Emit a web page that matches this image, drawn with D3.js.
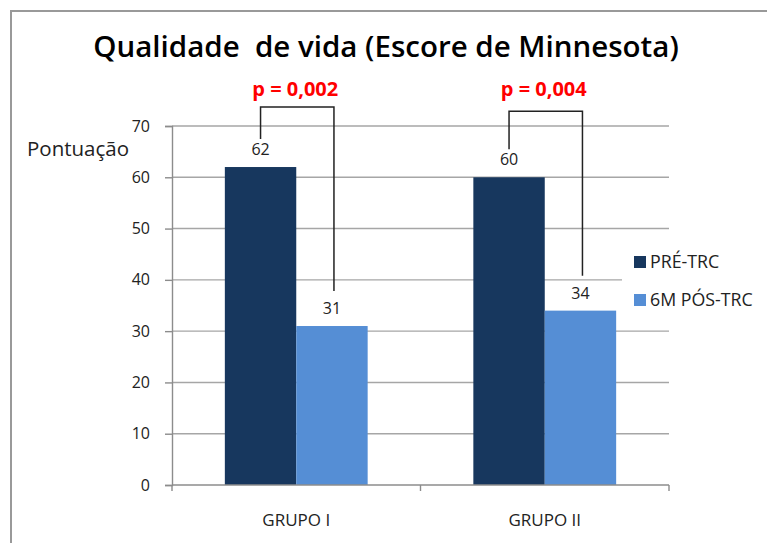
<!DOCTYPE html>
<html>
<head>
<meta charset="utf-8">
<script src="https://cdn.jsdelivr.net/npm/d3@7"></script>
<style>
  body { margin: 0; background: #fff; }
  text { font-family: "Open Sans", "Noto Sans", sans-serif; }
</style>
</head>
<body>
<div id="chart"></div>
<script>
var groups = ['GRUPO I', 'GRUPO II'];
var series = ['PRÉ-TRC', '6M PÓS-TRC'];
var preValues = [62, 60];
var postValues = [31, 34];
var pLabels = ['p = 0,002', 'p = 0,004'];
var bracketTops = [73.7, 72.9];
var yTicks = [0, 10, 20, 30, 40, 50, 60, 70];
var colors = ['#17375e', '#558ed5'];

(function() {
var W = 767, H = 543;
var svg = d3.select('#chart').append('svg').attr('width', W).attr('height', H);

// outer frame (cut off at right / bottom like the picture)
svg.append('path')
  .attr('d', 'M11,' + (H + 5) + 'V11H' + (W + 5))
  .attr('fill', 'none').attr('stroke', '#999').attr('stroke-width', 2);

svg.append('text').attr('x', 386).attr('y', 57).attr('text-anchor', 'middle')
  .attr('font-size', 29.5).attr('font-weight', 600).attr('fill', '#000')
  .attr('xml:space', 'preserve')
  .text('Qualidade  de vida (Escore de Minnesota)');

var pLeft = 172, pRight = 669, pTop = 126, pBottom = 485;
var x0 = d3.scaleBand().domain(groups).range([pLeft, pRight]).paddingInner(0).paddingOuter(0);
var x1 = d3.scaleBand().domain(series).range([0, x0.bandwidth()]).paddingOuter(0.74).paddingInner(0);
var y = d3.scaleLinear().domain([0, 70]).range([pBottom, pTop]);

var g = svg.append('g');

// gridlines
g.selectAll('line.grid').data(yTicks.slice(1)).enter().append('line')
  .attr('x1', pLeft).attr('x2', pRight)
  .attr('y1', function(d) { return y(d); }).attr('y2', function(d) { return y(d); })
  .attr('stroke', '#a6a6a6').attr('stroke-width', 1.4);

// y axis
var yAxis = g.append('g').attr('transform', 'translate(' + pLeft + ',0)')
  .call(d3.axisLeft(y).tickValues(yTicks).tickSize(7).tickPadding(15));
yAxis.select('.domain').attr('stroke', '#8c8c8c').attr('stroke-width', 1.4);
yAxis.selectAll('.tick line').attr('stroke', '#8c8c8c').attr('stroke-width', 1.4);
yAxis.selectAll('text').attr('font-size', 16).attr('fill', '#222').style('font-family', '"Open Sans", sans-serif');

// bars
var data = groups.map(function(gname, i) {
  return [{g: gname, s: series[0], v: preValues[i]}, {g: gname, s: series[1], v: postValues[i]}];
});
var gg = g.selectAll('g.grp').data(data).enter().append('g')
  .attr('transform', function(d) { return 'translate(' + x0(d[0].g) + ',0)'; });
gg.selectAll('rect').data(function(d) { return d; }).enter().append('rect')
  .attr('x', function(d) { return x1(d.s); })
  .attr('width', x1.bandwidth())
  .attr('y', function(d) { return y(d.v); })
  .attr('height', function(d) { return pBottom - y(d.v); })
  .attr('fill', function(d, i) { return colors[i]; });
gg.selectAll('text.val').data(function(d) { return d; }).enter().append('text')
  .attr('x', function(d) { return x1(d.s) + x1.bandwidth() / 2; })
  .attr('y', function(d) { return y(d.v) - 12; })
  .attr('text-anchor', 'middle').attr('font-size', 16).attr('fill', '#222')
  .text(function(d) { return d.v; });

// x axis
var xAxis = g.append('g').attr('transform', 'translate(0,' + pBottom + ')');
xAxis.append('line').attr('x1', pLeft).attr('x2', pRight).attr('stroke', '#8c8c8c').attr('stroke-width', 1.4);
xAxis.selectAll('line.tk').data([pLeft, x0(groups[1]), pRight]).enter().append('line')
  .attr('x1', function(d) { return d; }).attr('x2', function(d) { return d; })
  .attr('y1', 0).attr('y2', 6).attr('stroke', '#8c8c8c').attr('stroke-width', 1.4);
xAxis.selectAll('text.lbl').data(groups).enter().append('text')
  .attr('x', function(d) { return x0(d) + x0.bandwidth() / 2; })
  .attr('y', 41).attr('text-anchor', 'middle').attr('font-size', 17).attr('fill', '#222')
  .text(function(d) { return d; });

svg.append('text').attr('x', 27).attr('y', 156).attr('font-size', 20.5).attr('fill', '#222')
  .text('Pontuação');

// significance brackets
groups.forEach(function(gname, i) {
  var xa = x0(gname) + x1(series[0]) + x1.bandwidth() / 2;
  var xb = x0(gname) + x1(series[1]) + x1.bandwidth() / 2 + 2;
  var yt = y(bracketTops[i]);
  var ya = y(preValues[i]) - 28;
  var yb = y(postValues[i]) - 35;
  svg.append('path')
    .attr('d', 'M' + xa + ',' + ya + 'V' + yt + 'H' + xb + 'V' + yb)
    .attr('fill', 'none').attr('stroke', '#222').attr('stroke-width', 1.5);
  svg.append('text').attr('x', (xa + xb) / 2 - 2).attr('y', yt - 11 - i * 4)
    .attr('text-anchor', 'middle').attr('font-size', 20).attr('font-weight', 700)
    .attr('fill', '#ff0000').text(pLabels[i]);
});

// legend
var leg = svg.append('g').attr('transform', 'translate(622,242)');
leg.append('rect').attr('width', 145).attr('height', 78).attr('fill', '#fff');
series.forEach(function(s, i) {
  leg.append('rect').attr('x', 12).attr('y', 14 + i * 38).attr('width', 12).attr('height', 12)
    .attr('fill', colors[i]);
  leg.append('text').attr('x', 28).attr('y', 26 + i * 38).attr('font-size', 17.8).attr('fill', '#222')
    .text(s);
});
})();
</script>
</body>
</html>
